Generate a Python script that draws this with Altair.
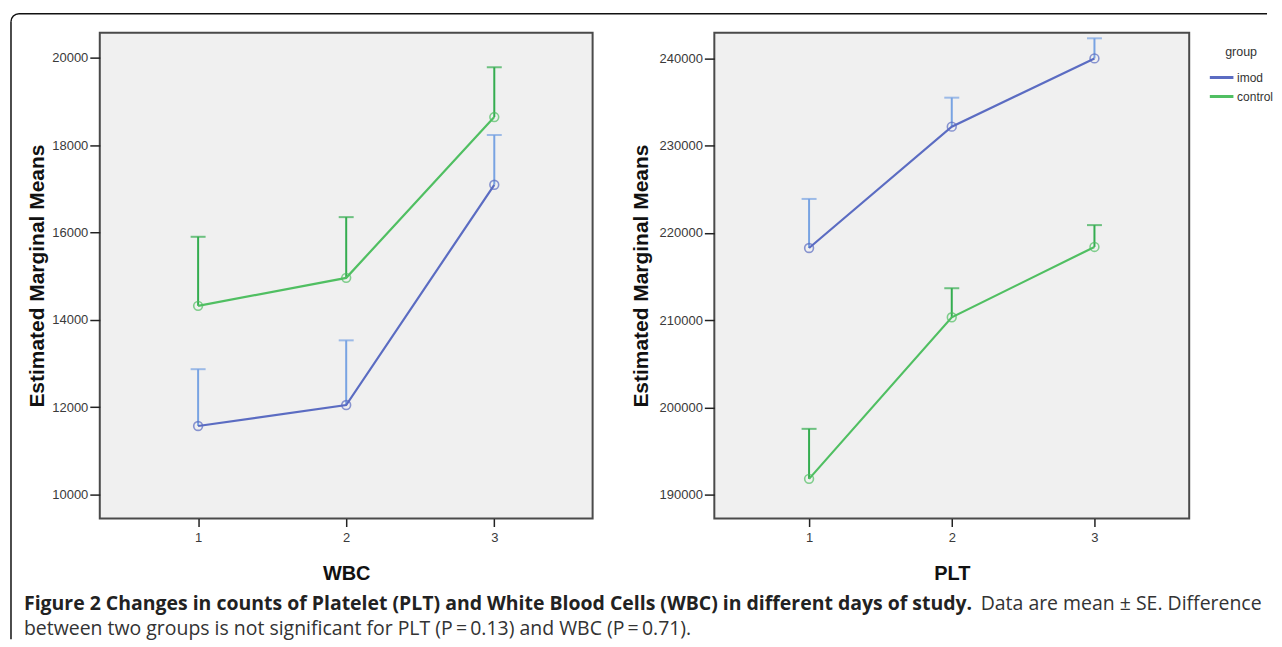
import altair as alt
import pandas as pd

# ---- data ----
days = [1, 2, 3]
groups = ["imod", "control"]

wbc_imod = [11570, 12050, 17090]
wbc_imod_upper = [12870, 13530, 18230]
wbc_control = [14320, 14960, 18640]
wbc_control_upper = [15900, 16350, 19780]

plt_imod = [218280, 232180, 240000]
plt_imod_upper = [223900, 235500, 242300]
plt_control = [191830, 210340, 218400]
plt_control_upper = [197560, 213670, 220900]

wbc_ticks = [10000, 12000, 14000, 16000, 18000, 20000]
plt_ticks = [190000, 200000, 210000, 220000, 230000, 240000]

y_title = "Estimated Marginal Means"
caption_bold = ["Figure 2 Changes in counts of Platelet (PLT) and White Blood Cells (WBC) in different days of study."]
caption_rest = ["Data are mean \u00b1 SE. Difference"]
caption_line2 = ["between two groups is not significant for PLT (P\u2009=\u20090.13) and WBC (P\u2009=\u20090.71)."]


def make_df(imod, imod_up, control, control_up):
    rows = []
    for d, m, u in zip(days, imod, imod_up):
        rows.append({"day": d, "group": "imod", "mean": m, "upper": u})
    for d, m, u in zip(days, control, control_up):
        rows.append({"day": d, "group": "control", "mean": m, "upper": u})
    return pd.DataFrame(rows)


wbc_df = make_df(wbc_imod, wbc_imod_upper, wbc_control, wbc_control_upper)
plt_df = make_df(plt_imod, plt_imod_upper, plt_control, plt_control_upper)

LINE_COLORS = ["#5b6cc2", "#50bf62"]
ERR_IMOD = "#78a3e2"
ERR_CTRL = "#34ad50"

FONT = "Liberation Sans"
CAP_FONT = "Open Sans"
CAP_SIZE = 19.5


def panel(df, ydom, yvals, xtitle, ytitle_x):
    x = alt.X("day:Q", scale=alt.Scale(domain=[0.336, 3.664], nice=False, zero=False),
              axis=alt.Axis(values=days, format="d", title=xtitle, titleY=55,
                            titleBaseline="middle", tickSize=8, labelPadding=5,
                            titleFontSize=20))
    y = alt.Y("mean:Q", scale=alt.Scale(domain=ydom, nice=False, zero=False),
              axis=alt.Axis(values=yvals, format="d", title=y_title, titleX=ytitle_x,
                            titleBaseline="middle", tickSize=10, labelPadding=2,
                            titleFontSize=21))
    base = alt.Chart(df)
    err_col = alt.condition(alt.datum.group == "imod", alt.value(ERR_IMOD), alt.value(ERR_CTRL))
    rules = base.mark_rule(strokeWidth=2).encode(x=x, y=y, y2="upper:Q", color=err_col)
    caps = base.mark_tick(orient="horizontal", size=15, thickness=2).encode(
        x=x, y=alt.Y("upper:Q"), color=err_col)
    line = base.mark_line(strokeWidth=2.2).encode(
        x=x, y=y,
        color=alt.Color("group:N", sort=groups,
                        scale=alt.Scale(domain=groups, range=LINE_COLORS),
                        legend=alt.Legend(title="group")))
    pt_col = alt.condition(alt.datum.group == "imod", alt.value(LINE_COLORS[0]), alt.value(LINE_COLORS[1]))
    pts = base.mark_point(shape="circle", filled=False, size=78, strokeWidth=1.6).encode(
        x=x, y=y, color=pt_col)
    return [rules, caps, line, pts]


# decoration: figure border and caption (placed relative to the left plot)
one = alt.Data(values=[{"k": 0}])
border_v = alt.Chart(one).mark_rule(color="#111", strokeWidth=1.5).encode(
    x=alt.value(-89), y=alt.value(-11), y2=alt.value(608))
border_h = alt.Chart(one).mark_rule(color="#111", strokeWidth=1.5).encode(
    x=alt.value(-81), x2=alt.value(1170), y=alt.value(-19))
corner = alt.Chart(one).mark_arc(color="#111", theta=4.7124, theta2=6.2832,
                                 radius=8.75, radius2=7.25).encode(
    x=alt.value(-81), y=alt.value(-11))

cap1 = alt.Chart(pd.DataFrame({"t": caption_bold})).mark_text(
    align="left", baseline="alphabetic", font=CAP_FONT, fontSize=CAP_SIZE,
    fontWeight="bold", color="#222").encode(x=alt.value(-76), y=alt.value(579), text="t:N")
cap2 = alt.Chart(pd.DataFrame({"t": caption_rest})).mark_text(
    align="left", baseline="alphabetic", font=CAP_FONT, fontSize=CAP_SIZE,
    color="#333").encode(x=alt.value(883), y=alt.value(579), text="t:N")
cap3 = alt.Chart(pd.DataFrame({"t": caption_line2})).mark_text(
    align="left", baseline="alphabetic", font=CAP_FONT, fontSize=CAP_SIZE,
    color="#333").encode(x=alt.value(-76), y=alt.value(604), text="t:N")

left = alt.layer(
    border_v, border_h, corner, cap1, cap2, cap3,
    *panel(wbc_df, [9452, 20571], wbc_ticks, "WBC", -62)
).properties(width=494, height=487)

right = alt.layer(
    *panel(plt_df, [187285, 242944], plt_ticks, "PLT", -73)
).properties(width=476, height=487)

chart = alt.hconcat(left, right, spacing=122, bounds="flush").resolve_scale(
    x="independent", y="independent", color="shared"
).properties(
    padding={"left": 1, "top": 3, "right": 0, "bottom": 0}
).configure(
    background="white"
).configure_view(
    fill="#f0f0f0", stroke="#4a4a4a", strokeWidth=2
).configure_axis(
    labelFont=FONT, labelFontSize=13, labelColor="#3a3a3a",
    tickColor="#222", tickWidth=1.5, domain=False, grid=False,
    titleFont=FONT, titleFontSize=20, titleFontWeight="bold", titleColor="#111"
).configure_legend(
    orient="none", legendX=1111, legendY=13, padding=0,
    titleFont=FONT, titleFontSize=12.5, titleFontWeight="normal", titleColor="#333",
    titleAnchor="middle", titleAlign="center", titlePadding=10,
    labelFont=FONT, labelFontSize=12, labelColor="#333", labelOffset=2,
    symbolType="stroke", symbolSize=560, symbolStrokeWidth=3, rowPadding=0,
    clipHeight=19
)

chart.save("out.html", embed_options={"renderer": "svg", "actions": False})
